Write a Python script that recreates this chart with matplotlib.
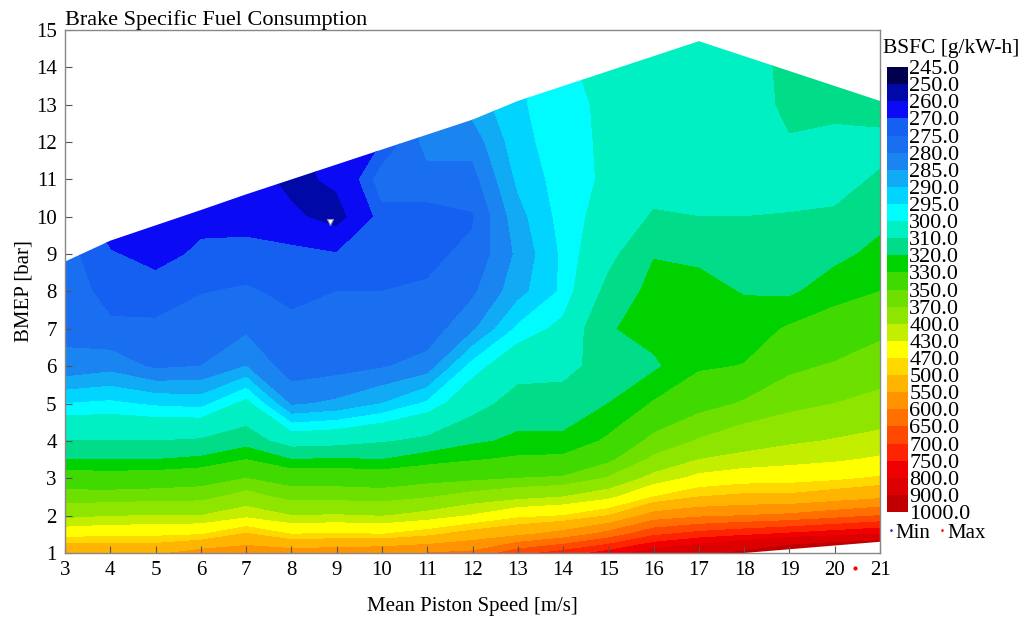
import numpy as np
import matplotlib
matplotlib.use("Agg")
import matplotlib.pyplot as plt
from matplotlib.colors import ListedColormap, BoundaryNorm
from matplotlib.cm import ScalarMappable
from matplotlib.patches import Polygon

plt.rcParams['font.family'] = ['Liberation Serif', 'DejaVu Serif']

# engine map grid
speed = [3, 4, 5, 6, 7, 8, 9, 10, 11, 12, 13, 14, 15, 16, 17, 18, 19, 20, 21]
bmep = [1, 1.5, 2, 2.5, 3, 3.5, 4, 5, 6, 7, 8, 9, 10, 11, 12, 13, 14, 15]

# operating envelope (full load line and lowest measured load)
bmep_max = [8.8, 9.36, 9.77, 10.18, 10.6, 11.0, 11.4, 11.8, 12.2, 12.6,
            13.1, 13.5, 13.9, 14.3, 14.7, 14.3, 13.9, 13.5, 13.1]
bmep_min = [1.0, 1.0, 1.0, 1.0, 1.0, 1.0, 1.0, 1.0, 1.0, 1.0,
            1.0, 1.0, 1.0, 1.0, 1.0, 1.0, 1.1, 1.2, 1.3]

# BSFC [g/kW-h], one list per speed, ordered like bmep
bsfc_cols = [
    [550, 455, 390, 358, 337, 320, 310, 295, 281, 279, 278, 277, 276, 275, 275, 275, 275, 275],
    [540, 460, 398, 358, 336, 320, 310, 296, 283, 276, 273, 270.5, 266, 264, 264, 264, 264, 264],
    [540, 462, 400, 360, 337, 320, 310, 294, 279, 276, 272.5, 268, 262, 262, 262, 262, 262, 262],
    [570, 468, 400, 362, 340, 322, 311, 293, 280, 277, 274.8, 271, 268.5, 265, 264, 264, 264, 264],
    [580, 505, 420, 380, 350, 330, 315, 302, 285, 279, 275.5, 272.5, 267, 265, 264, 264, 264, 264],
    [575, 470, 400, 362, 340, 320, 305, 284, 277, 276, 274, 272.5, 262, 257, 257, 257, 257, 257],
    [580, 475, 402, 362, 340, 321, 306, 286, 278, 276, 275, 270.5, 256, 262, 268, 268, 268, 268],
    [590, 470, 398, 360, 338, 320, 309, 290, 279.5, 276.5, 275, 274, 273, 278, 270, 270, 270, 270],
    [600, 490, 410, 368, 342, 325, 312, 296, 282, 277, 275.5, 274, 273, 278, 282, 285, 285, 285],
    [610, 520, 432, 380, 345, 329, 318, 306, 297, 284, 279, 276, 274.5, 278, 282, 287, 287, 287],
    [680, 540, 460, 390, 350, 332, 322, 314, 306, 296, 288, 286, 288, 291, 293, 294, 294, 294],
    [720, 570, 470, 400, 352, 333, 322, 314, 307, 302, 296, 296, 297, 297.5, 298, 298.5, 299, 299],
    [770, 620, 500, 420, 372, 345, 332, 320, 314, 319, 313, 307, 303, 301, 301, 301, 302, 302],
    [830, 690, 570, 470, 410, 375, 355, 331, 318, 324, 323, 319.5, 311, 306, 304, 303, 303, 304],
    [870, 720, 590, 500, 440, 400, 372, 342, 328, 323, 322.5, 318.5, 310, 306, 304, 303, 303, 303],
    [920, 740, 600, 510, 452, 410, 385, 352, 330.5, 324, 319.5, 316, 310, 306, 304, 303, 303, 303],
    [1000, 760, 610, 510, 455, 418, 395, 362, 346, 331.5, 318, 314, 310.5, 306, 309, 313, 314, 315],
    [1050, 780, 630, 525, 462, 425, 402, 370, 352, 336, 326, 317, 311.5, 306, 308, 312, 313, 314],
    [1100, 800, 650, 540, 475, 435, 410, 376, 360, 345, 330, 323, 317, 311.5, 306, 316, 316, 316],
]

levels = [245, 250, 260, 270, 275, 280, 285, 290, 295, 300, 310, 320, 330, 350,
          370, 400, 430, 470, 500, 550, 600, 650, 700, 750, 800, 900, 1000]
band_colors = ['#00004f', '#0008a8', '#0a0af5', '#1560f0', '#1a6ff0', '#1a85f0',
               '#10aaf5', '#00d4ff', '#00fcff', '#00f0c4', '#00dc88', '#00d200',
               '#40da00', '#6ee000', '#8ee600', '#c4ee00', '#ffff00', '#ffd800',
               '#ffb400', '#ff9400', '#ff7000', '#ff4800', '#ff2400', '#f00000',
               '#dc0000', '#c00000']

min_point = (8.85, 9.85)
max_point = (20.45, 0.6)

X, Y = np.meshgrid(speed, bmep)
Z = np.array(bsfc_cols).T

cmap = ListedColormap(band_colors)
cmap.set_under(band_colors[0])
cmap.set_over(band_colors[-1])
norm = BoundaryNorm(levels, ncolors=len(band_colors))

fig = plt.figure(figsize=(10.27, 6.18), dpi=100)
ax = fig.add_axes([0.0633, 0.1052, 0.7936, 0.8463])

cs = ax.contourf(X, Y, Z, levels=levels, cmap=cmap, norm=norm, extend='both')
env = list(zip(speed, bmep_min)) + list(zip(speed[::-1], bmep_max[::-1]))
clip = Polygon(env, closed=True, transform=ax.transData, facecolor='none', edgecolor='none')
ax.add_patch(clip)
cs.set_clip_path(clip)

ax.plot(*min_point, marker='v', ms=5, mfc='white', mec='#9090b0', mew=0.8, ls='none')
ax.plot(*max_point, marker='o', ms=2, color='red', ls='none', clip_on=False)

ax.set_xlim(3, 21)
ax.set_ylim(1, 15)
ax.set_xticks(range(3, 22))
ax.set_yticks(range(1, 16))
ax.tick_params(direction='in', length=5, width=0.8, color='#555555', labelsize=15, pad=6)
for sp in ax.spines.values():
    sp.set_color('#888888')
    sp.set_linewidth(1)
ax.set_xlabel('Mean Piston Speed [m/s]', fontsize=15, labelpad=12)
ax.set_ylabel('BMEP [bar]', fontsize=15, labelpad=2)
ax.set_title('Brake Specific Fuel Consumption', loc='left', fontsize=16, pad=1)

# colour key
cax = fig.add_axes([0.8637, 0.1715, 0.0204, 0.72])
sm = ScalarMappable(norm=norm, cmap=cmap)
cb = fig.colorbar(sm, cax=cax, boundaries=levels, ticks=levels, spacing='uniform')
cb.outline.set_visible(False)
cax.invert_yaxis()
cax.set_yticklabels([f'{v:.1f}' for v in levels])
cax.tick_params(length=0, labelsize=16, pad=1)
fig.text(0.860, 1 - 48 / 618, 'BSFC [g/kW-h]', fontsize=15.5, va='center', ha='left')

ly = 1 - 534 / 618
fig.text(0.864, ly, '·', color='#2030c0', fontsize=15, va='center', ha='left')
fig.text(0.872, ly, 'Min', fontsize=15, va='center', ha='left')
fig.text(0.914, ly, '·', color='red', fontsize=15, va='center', ha='left')
fig.text(0.922, ly, 'Max', fontsize=15, va='center', ha='left')

fig.savefig('out.png', dpi=100)
